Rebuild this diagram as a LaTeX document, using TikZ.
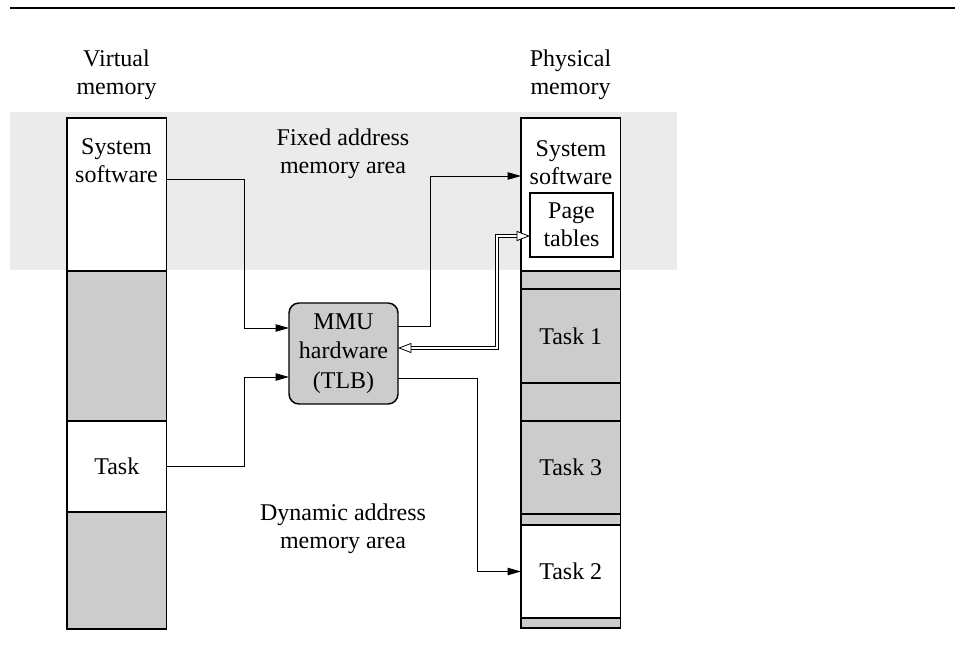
\documentclass[tikz,border=0pt]{standalone}
\usepackage{fontspec}
\setmainfont{Liberation Serif}
\usetikzlibrary{arrows.meta,calc}
\begin{document}
\begin{tikzpicture}[x=0.75pt,y=-0.75pt,
  seg/.style={draw, line width=1.1pt, inner sep=0pt, outer sep=0pt, minimum width=74.625pt, anchor=north west, font=\fontsize{18}{21}\selectfont, align=center},
  wseg/.style={seg, fill=white},
  gseg/.style={seg, fill=black!20},
  txt/.style={font=\fontsize{18}{21}\selectfont, align=center, inner sep=0pt},
  conn/.style={line width=0.75pt, -{Triangle[length=10pt,width=5.5pt]}},
  dbl/.style={double, double distance=1.8pt, line width=0.6pt, {Triangle[open,fill=white,length=10pt,width=7.5pt,line width=0.6pt]}-{Triangle[open,fill=white,length=10pt,width=7.5pt,line width=0.6pt]}}]
\useasboundingbox (0,0) rectangle (955,663);
\fill[black!8] (10,112) rectangle (677,270);
\draw[line width=1pt] (10,8) -- (955,8);
% labels
\node[txt] (vhead) at (116.5,75) {Virtual\\memory};
\node[txt] (phead) at (570.5,75) {Physical\\memory};
\node[txt] (fixed) at (343,154) {Fixed address\\memory area};
\node[txt] (dyn) at (343,529) {Dynamic address\\memory area};
% virtual column
\node[wseg, minimum height=114.75pt] (vs) at (67,118) {};
\node[gseg, minimum height=112.5pt] (vg1) at (67,271) {};
\node[wseg, minimum height=68.25pt] (vtask) at (67,421) {Task};
\node[gseg, minimum height=87.75pt] (vg2) at (67,512) {};
\node[txt] (vslab) at (116.5,161) {System\\software};
% physical column
\node[wseg, minimum height=114.75pt] (ps) at (521,118) {};
\node[gseg, minimum height=13.5pt] (pg1) at (521,271) {};
\node[gseg, minimum height=70.5pt] (pt1) at (521,289) {Task 1};
\node[gseg, minimum height=28.5pt] (pg2) at (521,383) {};
\node[gseg, minimum height=69.75pt] (pt3) at (521,421) {Task 3};
\node[gseg, minimum height=8.25pt] (pg3) at (521,514) {};
\node[wseg, minimum height=69.75pt] (pt2) at (521,525) {Task 2};
\node[gseg, minimum height=7.5pt] (pg4) at (521,618) {};
\node[txt] (pslab) at (571,163) {System\\software};
\node[draw, fill=white, line width=1.1pt, minimum width=62.25pt, minimum height=48pt, inner sep=0pt, outer sep=0pt, font=\fontsize{18}{21}\selectfont, align=center] (ptab) at (571.5,225) {Page\\tables};
% MMU
\node[draw, fill=black!20, line width=1.1pt, rounded corners=7.5pt, minimum width=81.75pt, minimum height=75.75pt, inner sep=0pt, outer sep=0pt, font=\fontsize{18}{22}\selectfont, align=center] (mmu) at (343.5,353.5) {MMU\\hardware\\(TLB)};
% connectors
\draw[conn] ($(vs.north east)+(0,61)$) -| ($(mmu.west)+(-45,-25.5)$) -- ($(mmu.west)+(0,-25.5)$);
\draw[conn] (vtask.east) -| ($(mmu.west)+(-45,23.5)$) -- ($(mmu.west)+(0,23.5)$);
\draw[conn] ($(mmu.east)+(0,-27.5)$) -- ++(32,0) |- ($(ps.north west)+(0,58)$);
\draw[dbl] ($(mmu.east)+(0,-5.5)$) -| ($(ptab.west)+(-33,11)$) -- ($(ptab.west)+(0,11)$);
\draw[conn] ($(mmu.east)+(0,24.5)$) -| ($(pt2.west)+(-44,0)$) -- (pt2.west);
\end{tikzpicture}
\end{document}
